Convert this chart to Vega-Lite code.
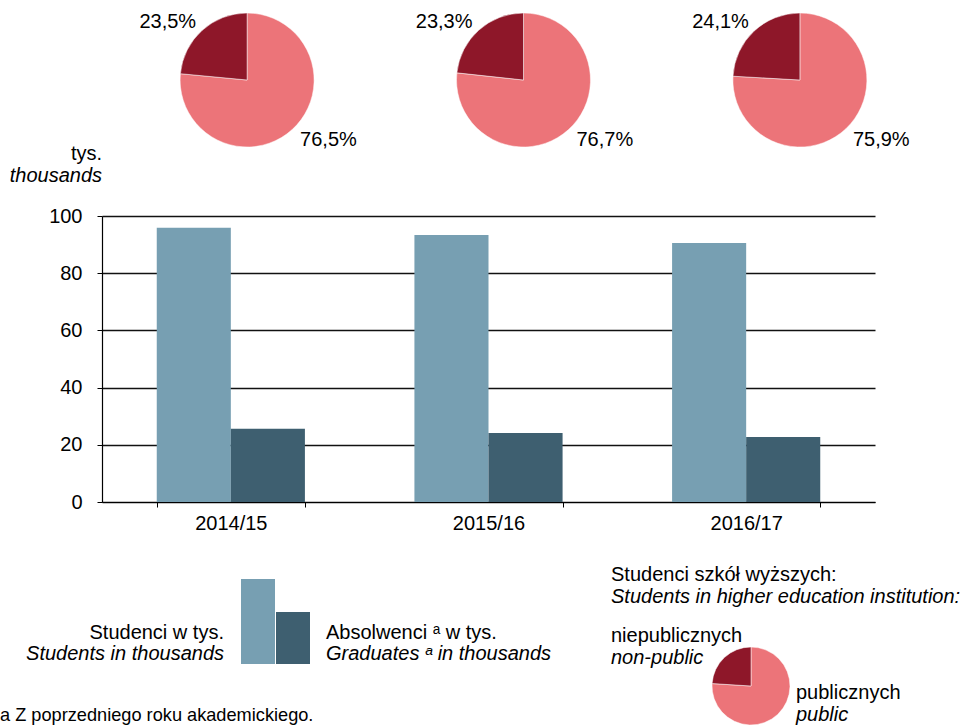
{
  "$schema": "https://vega.github.io/schema/vega-lite/v6.json",
  "autosize": {"type": "pad"},
  "padding": {"left": 0, "top": 12, "right": 0, "bottom": 0},
  "background": "white",
  "bounds": "flush",
  "spacing": 69,
  "resolve": {"scale": {"color": "independent", "x": "independent", "y": "independent", "theta": "independent"}},
  "config": {
    "font": "Liberation Sans",
    "view": {"stroke": null},
    "text": {"font": "Liberation Sans", "fontSize": 20, "color": "black", "baseline": "middle"},
    "axis": {"labelFont": "Liberation Sans", "labelColor": "black", "labelFontSize": 20}
  },
  "datasets": {
    "pies": [
      {"year": "2014/15", "type": "public", "order": 1, "pct": 76.5, "label": "76,5%"},
      {"year": "2014/15", "type": "non-public", "order": 2, "pct": 23.5, "label": "23,5%"},
      {"year": "2015/16", "type": "public", "order": 1, "pct": 76.7, "label": "76,7%"},
      {"year": "2015/16", "type": "non-public", "order": 2, "pct": 23.3, "label": "23,3%"},
      {"year": "2016/17", "type": "public", "order": 1, "pct": 75.9, "label": "75,9%"},
      {"year": "2016/17", "type": "non-public", "order": 2, "pct": 24.1, "label": "24,1%"}
    ],
    "bars": [
      {"year": "2014/15", "series": "Studenci", "value": 95.9},
      {"year": "2014/15", "series": "Absolwenci", "value": 25.6},
      {"year": "2015/16", "series": "Studenci", "value": 93.4},
      {"year": "2015/16", "series": "Absolwenci", "value": 24.1},
      {"year": "2016/17", "series": "Studenci", "value": 90.6},
      {"year": "2016/17", "series": "Absolwenci", "value": 22.7}
    ],
    "legendBars": [
      {"series": "Studenci", "v": 100},
      {"series": "Absolwenci", "v": 61.2}
    ],
    "legendPie": [
      {"type": "public", "order": 1, "pct": 76},
      {"type": "non-public", "order": 2, "pct": 24}
    ]
  },
  "vconcat": [
    {
      "width": 843,
      "height": 134,
      "data": {"name": "pies"},
      "transform": [
        {"stack": "pct", "groupby": ["year"], "sort": [{"field": "order"}], "offset": "normalize", "as": ["t0", "t1"]}
      ],
      "layer": [
        {
          "mark": {"type": "arc", "radius": 67, "stroke": "white", "strokeWidth": 0.5},
          "encoding": {
            "x": {"field": "year", "type": "nominal", "scale": {"type": "point", "padding": 0.525}, "axis": null},
            "theta": {"field": "t0", "type": "quantitative", "scale": {"domain": [0, 1]}},
            "theta2": {"field": "t1"},
            "color": {"field": "type", "type": "nominal", "scale": {"domain": ["public", "non-public"], "range": ["#EC7479", "#8E1729"]}, "legend": null}
          }
        },
        {
          "transform": [{"filter": "datum.type === 'non-public'"}],
          "mark": {"type": "text", "align": "right", "dx": -51, "dy": -58},
          "encoding": {
            "x": {"field": "year", "type": "nominal"},
            "text": {"field": "label"}
          }
        },
        {
          "transform": [{"filter": "datum.type === 'public'"}],
          "mark": {"type": "text", "align": "left", "dx": 53, "dy": 60},
          "encoding": {
            "x": {"field": "year", "type": "nominal"},
            "text": {"field": "label"}
          }
        }
      ]
    },
    {
      "width": 773,
      "height": 286,
      "title": {
        "text": "tys.",
        "subtitle": "thousands",
        "anchor": "start",
        "frame": "group",
        "align": "right",
        "orient": "top",
        "offset": 20,
        "font": "Liberation Sans",
        "fontSize": 20,
        "fontWeight": "normal",
        "color": "black",
        "subtitleFont": "Liberation Sans",
        "subtitleFontSize": 20,
        "subtitleFontStyle": "italic",
        "subtitleColor": "black",
        "subtitlePadding": 2
      },
      "data": {"name": "bars"},
      "mark": {"type": "bar"},
      "encoding": {
        "x": {
          "field": "year", "type": "nominal",
          "scale": {"paddingInner": 0.425, "paddingOuter": 0.2125},
          "axis": {"title": null, "labelAngle": 0, "tickBand": "extent", "tickSize": 5, "tickColor": "black", "domainColor": "black", "domainWidth": 1.2, "labelPadding": 6}
        },
        "xOffset": {"field": "series", "type": "nominal", "sort": ["Studenci", "Absolwenci"], "scale": {"paddingInner": 0, "paddingOuter": 0}},
        "y": {
          "field": "value", "type": "quantitative",
          "scale": {"domain": [0, 100]},
          "axis": {"title": null, "values": [0, 20, 40, 60, 80, 100], "grid": true, "gridColor": "#111111", "gridWidth": 1.5, "tickColor": "black", "tickSize": 5, "domainColor": "black", "domainWidth": 1.2, "labelPadding": 15}
        },
        "color": {"field": "series", "type": "nominal", "scale": {"domain": ["Studenci", "Absolwenci"], "range": ["#779FB2", "#3E5F70"]}, "legend": null}
      }
    },
    {
      "bounds": "flush",
      "spacing": 402,
      "resolve": {"scale": {"color": "independent", "theta": "independent"}},
      "hconcat": [
        {
          "width": 208,
          "height": 93,
          "layer": [
            {
              "data": {"name": "legendBars"},
              "mark": {"type": "bar"},
              "encoding": {
                "x": {"field": "series", "type": "nominal", "sort": ["Studenci", "Absolwenci"], "scale": {"range": [139, 208], "paddingInner": 0.0286, "paddingOuter": 0}, "axis": null},
                "y": {"field": "v", "type": "quantitative", "scale": {"domain": [0, 109.4]}, "axis": null},
                "color": {"field": "series", "type": "nominal", "scale": {"domain": ["Studenci", "Absolwenci"], "range": ["#779FB2", "#3E5F70"]}, "legend": null}
              }
            },
            {
              "data": {"values": [{"t": "Studenci w tys."}]},
              "mark": {"type": "text", "align": "right", "dx": 18, "dy": 15.5},
              "encoding": {"text": {"field": "t"}}
            },
            {
              "data": {"values": [{"t": "Students in thousands"}]},
              "mark": {"type": "text", "align": "right", "dx": 18, "dy": 36.5, "fontStyle": "italic"},
              "encoding": {"text": {"field": "t"}}
            },
            {
              "data": {"values": [{"t": "Absolwenci ᵃ w tys."}]},
              "mark": {"type": "text", "align": "left", "dx": 120, "dy": 15.5},
              "encoding": {"text": {"field": "t"}}
            },
            {
              "data": {"values": [{"t": "Graduates ᵃ in thousands"}]},
              "mark": {"type": "text", "align": "left", "dx": 120, "dy": 36.5, "fontStyle": "italic"},
              "encoding": {"text": {"field": "t"}}
            },
            {
              "data": {"values": [{"t": "a Z poprzedniego roku akademickiego."}]},
              "mark": {"type": "text", "align": "left", "dx": -206, "dy": 98.5, "fontSize": 18.2},
              "encoding": {"text": {"field": "t"}}
            }
          ]
        },
        {
          "width": 78,
          "height": 230,
          "layer": [
            {
              "data": {"name": "legendPie"},
              "transform": [
                {"stack": "pct", "groupby": [], "sort": [{"field": "order"}], "offset": "normalize", "as": ["t0", "t1"]}
              ],
              "mark": {"type": "arc", "radius": 39, "stroke": "white", "strokeWidth": 0.5},
              "encoding": {
                "theta": {"field": "t0", "type": "quantitative", "scale": {"domain": [0, 1]}},
                "theta2": {"field": "t1"},
                "color": {"field": "type", "type": "nominal", "scale": {"domain": ["public", "non-public"], "range": ["#EC7479", "#8E1729"]}, "legend": null}
              }
            },
            {
              "data": {"values": [{"t": "Studenci szkół wyższych:"}]},
              "mark": {"type": "text", "align": "left", "dx": -140, "dy": -111},
              "encoding": {"text": {"field": "t"}}
            },
            {
              "data": {"values": [{"t": "Students in higher education institution:"}]},
              "mark": {"type": "text", "align": "left", "dx": -140, "dy": -89, "fontStyle": "italic"},
              "encoding": {"text": {"field": "t"}}
            },
            {
              "data": {"values": [{"t": "niepublicznych"}]},
              "mark": {"type": "text", "align": "left", "dx": -140, "dy": -50},
              "encoding": {"text": {"field": "t"}}
            },
            {
              "data": {"values": [{"t": "non-public"}]},
              "mark": {"type": "text", "align": "left", "dx": -140, "dy": -28, "fontStyle": "italic"},
              "encoding": {"text": {"field": "t"}}
            },
            {
              "data": {"values": [{"t": "publicznych"}]},
              "mark": {"type": "text", "align": "left", "dx": 45, "dy": 7},
              "encoding": {"text": {"field": "t"}}
            },
            {
              "data": {"values": [{"t": "public"}]},
              "mark": {"type": "text", "align": "left", "dx": 45, "dy": 29, "fontStyle": "italic"},
              "encoding": {"text": {"field": "t"}}
            }
          ]
        }
      ]
    }
  ]
}
